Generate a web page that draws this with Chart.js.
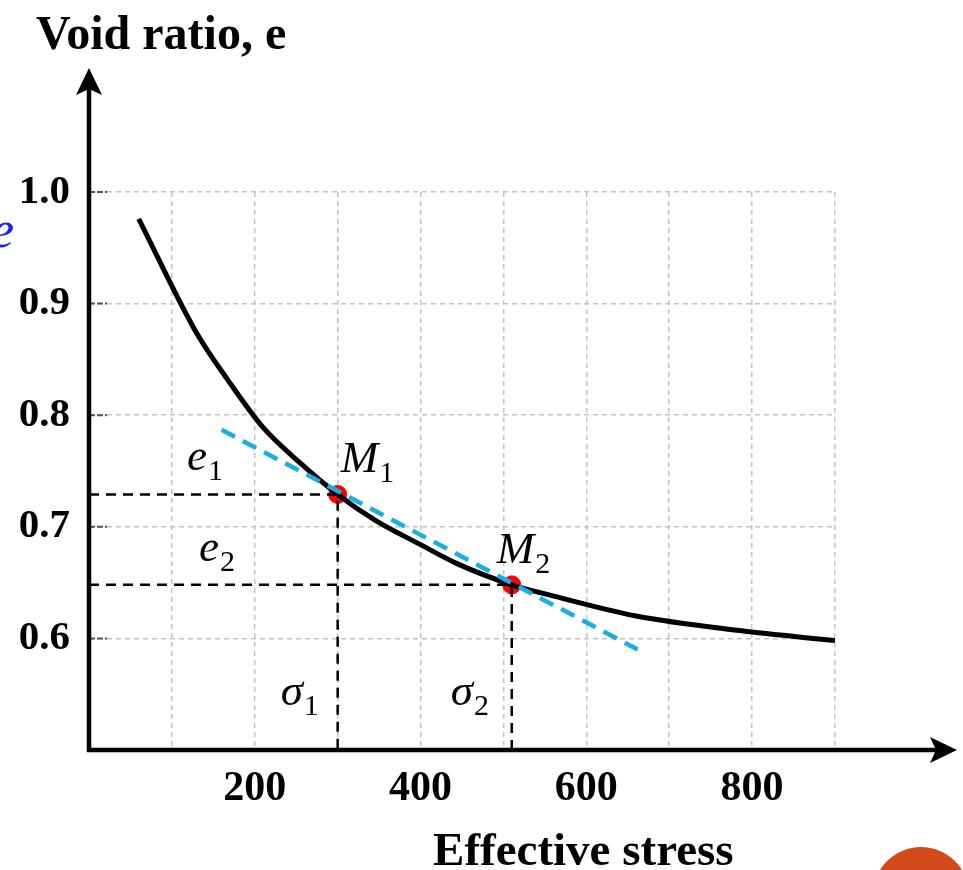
<!DOCTYPE html>
<html>
<head>
<meta charset="utf-8">
<script src="https://cdn.jsdelivr.net/npm/chart.js@4.4.1/dist/chart.umd.min.js"></script>
<style>
  html, body { margin: 0; padding: 0; background: #fff; overflow: hidden; }
  #wrap { position: relative; width: 963px; height: 870px; }
  #blueE { position: absolute; left: -9px; top: 200px; font: italic 52px "Liberation Serif", serif; color: #1a1aff; }
  #dot { position: absolute; left: 873px; top: 847px; width: 96px; height: 96px; border-radius: 50%; background: #d34a1c; }
</style>
</head>
<body>
<div id="wrap">
  <canvas id="voidChart" width="963" height="870"></canvas>
  <div id="blueE">e</div>
  <div id="dot"></div>
</div>
<script>
// compression curve
const stress = [60, 128, 168, 210, 255, 300, 345, 400, 444, 510, 555, 660, 785, 900];
const voidRatio = [0.976, 0.876, 0.831, 0.789, 0.757, 0.729, 0.706, 0.684, 0.667, 0.648, 0.639, 0.620, 0.607, 0.598];

// tangent (dashed blue) end points
const tangentStress = [160, 662];
const tangentRatio = [0.787, 0.590];

// the two marked points M1, M2
const pointNames = ['1', '2'];
const pointStress = [300, 510];
const pointRatio = [0.729, 0.648];

// tick labels that are shown
const xLabelValues = [200, 400, 600, 800];
const yLabelValues = [0.6, 0.7, 0.8, 0.9, 1.0];

const xy = (xs, ys) => xs.map((x, i) => ({ x: x, y: ys[i] }));

const guideSets = pointStress.map((s, i) => ({
  type: 'line',
  data: [{ x: 0, y: pointRatio[i] }, { x: s, y: pointRatio[i] }, { x: s, y: 0.5 }],
  borderColor: '#000',
  borderWidth: 2.5,
  borderDash: [10, 7],
  pointRadius: 0,
  order: 3
}));

// draws a math-like label with a subscript
function mathLabel(ctx, main, sub, x, base) {
  ctx.font = 'italic 45px "Liberation Serif", serif';
  ctx.textAlign = 'left';
  ctx.textBaseline = 'alphabetic';
  ctx.fillText(main, x, base);
  const w = ctx.measureText(main).width;
  ctx.font = '30px "Liberation Serif", serif';
  ctx.fillText(sub, x + w + 1, base + 10);
}

const decorations = {
  id: 'decorations',
  afterDatasetsDraw(chart) {
    const ctx = chart.ctx;
    const xs = chart.scales.x, ys = chart.scales.y;
    const x0 = xs.getPixelForValue(0), y0 = ys.getPixelForValue(0.5);
    ctx.save();

    // small tick marks on the y axis
    ctx.strokeStyle = '#555';
    ctx.lineWidth = 2;
    ctx.setLineDash([6, 2]);
    yLabelValues.forEach(v => {
      const y = ys.getPixelForValue(v);
      ctx.beginPath();
      ctx.moveTo(x0, y);
      ctx.lineTo(x0 + 18, y);
      ctx.stroke();
    });
    ctx.setLineDash([]);

    // axes with arrows
    ctx.strokeStyle = '#000';
    ctx.fillStyle = '#000';
    ctx.lineWidth = 4.5;
    const yTip = ys.top - 124, xTip = xs.right + 122;
    ctx.beginPath();
    ctx.moveTo(x0, y0 + 2);
    ctx.lineTo(x0, yTip + 10);
    ctx.moveTo(x0 - 2, y0);
    ctx.lineTo(xTip - 10, y0);
    ctx.stroke();
    ctx.beginPath();
    ctx.moveTo(x0, yTip);
    ctx.lineTo(x0 + 13, yTip + 27);
    ctx.lineTo(x0, yTip + 21);
    ctx.lineTo(x0 - 13, yTip + 27);
    ctx.closePath();
    ctx.fill();
    ctx.beginPath();
    ctx.moveTo(xTip, y0);
    ctx.lineTo(xTip - 27, y0 - 13);
    ctx.lineTo(xTip - 21, y0);
    ctx.lineTo(xTip - 27, y0 + 13);
    ctx.closePath();
    ctx.fill();

    // axis titles
    ctx.font = 'bold 48px "Liberation Serif", serif';
    ctx.textAlign = 'left';
    ctx.textBaseline = 'alphabetic';
    ctx.fillText('Void ratio, e', x0 - 53, ys.top - 143);
    ctx.font = 'bold 47px "Liberation Serif", serif';
    ctx.textAlign = 'center';
    ctx.fillText('Effective stress', xs.getPixelForValue(600) - 3, y0 + 115);

    // point annotations
    pointStress.forEach((s, i) => {
      const px = xs.getPixelForValue(s), py = ys.getPixelForValue(pointRatio[i]);
      mathLabel(ctx, 'e', pointNames[i], x0 + 98 + 12 * i, py - 24);
      mathLabel(ctx, 'M', pointNames[i], i === 0 ? px + 3 : px - 15, py - 22);
      mathLabel(ctx, 'σ', pointNames[i], px - 57 - 4 * i, y0 - 45);
    });
    ctx.restore();
  }
};

new Chart(document.getElementById('voidChart'), {
  type: 'line',
  data: {
    datasets: [
      {
        data: xy(tangentStress, tangentRatio),
        borderColor: '#19aee6',
        borderWidth: 4.5,
        borderDash: [15, 9],
        pointRadius: 0,
        order: 1
      },
      {
        data: xy(stress, voidRatio),
        borderColor: '#000',
        borderWidth: 5,
        pointRadius: 0,
        cubicInterpolationMode: 'monotone',
        order: 2
      },
      ...guideSets,
      {
        type: 'scatter',
        data: xy(pointStress, pointRatio),
        backgroundColor: '#ff0000',
        borderColor: '#ff0000',
        borderWidth: 1,
        pointRadius: 9,
        order: 4
      }
    ]
  },
  options: {
    responsive: false,
    animation: false,
    layout: { padding: { left: 0, top: 192, right: 128, bottom: 0 } },
    plugins: { legend: { display: false }, tooltip: { enabled: false } },
    scales: {
      x: {
        type: 'linear',
        min: 0,
        max: 900,
        afterFit(scale) { scale.height = 120; },
        border: { display: false, dash: [5, 4] },
        grid: { color: '#c4c4c4', lineWidth: 1.5, drawTicks: false },
        ticks: {
          stepSize: 100,
          padding: 14,
          color: '#000',
          font: { family: '"Liberation Serif", serif', size: 42, weight: 'bold' },
          callback: v => xLabelValues.includes(v) ? String(v) : ''
        }
      },
      y: {
        min: 0.5,
        max: 1.0,
        afterFit(scale) { scale.width = 89; },
        border: { display: false, dash: [5, 4] },
        grid: { color: '#c4c4c4', lineWidth: 1.5, drawTicks: false },
        ticks: {
          stepSize: 0.1,
          padding: 19,
          color: '#000',
          font: { family: '"Liberation Serif", serif', size: 41, weight: 'bold' },
          callback: v => yLabelValues.some(t => Math.abs(t - v) < 1e-6) ? v.toFixed(1) : ''
        }
      }
    }
  },
  plugins: [decorations]
});
</script>
</body>
</html>
